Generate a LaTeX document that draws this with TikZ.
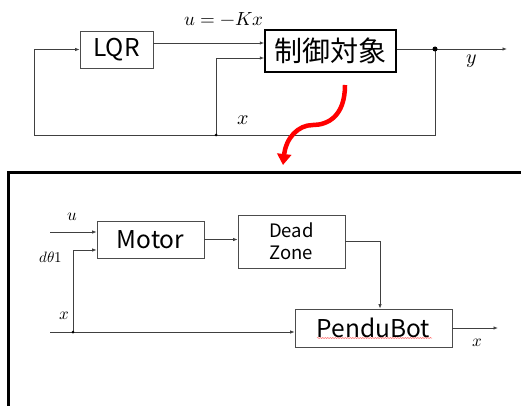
\documentclass[tikz,border=0pt]{standalone}
\usepackage{fontspec}
\usepackage{unicode-math}
\newfontfamily\jp{Noto Sans CJK JP}
\usetikzlibrary{arrows.meta,decorations.pathmorphing}
\begin{document}
\begin{tikzpicture}[x=1pt,y=-1pt,
  blk/.style={draw=black!70, line width=0.8pt, inner sep=0pt, font=\jp\fontsize{24.5}{26}\selectfont},
  ln/.style={draw=black!75, line width=0.8pt},
  arr/.style={ln, -{Latex[length=4.5pt,width=3.5pt]}},
  dotb/.style={circle, fill=black, inner sep=0pt, minimum size=#1},
  lab/.style={inner sep=0pt, font=\fontsize{20}{22}\selectfont},
  labs/.style={inner sep=0pt, font=\fontsize{17}{19}\selectfont}]
\useasboundingbox (0,0) rectangle (521,406);
\clip (0,0) rectangle (521,406);
% top
\node[blk, minimum width=73pt, minimum height=37pt] (lqr) at (116.5,49.5) {LQR};
\node[blk, draw=black, line width=1.5pt, minimum width=131pt, minimum height=42pt, font=\jp\fontsize{28}{30}\selectfont] (plant) at (330.5,51) {制御対象};
\coordinate (r43) at (0,43);
\coordinate (r58) at (0,58);
\coordinate (j1) at (216,135);
\coordinate (j1t) at (216,58);
\coordinate (j2) at (435,49);
\coordinate (j2b) at (435,135);
\coordinate (fbL) at (34,135);
\coordinate (yout) at (507,49);
\draw[arr] (lqr.east |- r43) -- (plant.west |- r43);
\draw[arr] (j1) -- (j1t) -- (plant.west |- r58);
\draw[arr] (plant.east |- j2) -- (yout);
\draw[arr] (j2) -- (j2b) -- (fbL) |- (lqr.west);
\node[dotb=5pt] (d2) at (j2) {};
\node[dotb=3pt] (d1) at (j1) {};
\node[lab, font=\fontsize{19}{21}\selectfont] (lu) at (224,19) {$u=-Kx$};
\node[lab] (ly) at (472,61) {$y$};
\node[lab] (lx) at (243,120) {$x$};
% red arrow
\coordinate (rs) at (345,85);
\coordinate (rm) at (313,125);
\coordinate (re) at (283,165);
\draw[red, line width=4.5pt, -{Triangle[length=11pt,width=14pt]}] (rs) .. controls (345,117) and (327,125) .. (rm) .. controls (298,125) and (286,138) .. (re);
% bottom frame
\coordinate (f1) at (8,420);
\coordinate (f2) at (8,172);
\coordinate (f3) at (530,172);
\draw[line width=3pt] (f1) -- (f2) -- (f3);
% bottom blocks
\node[blk, minimum width=107pt, minimum height=37pt] (motor) at (150.5,239.5) {Motor};
\node[blk, minimum width=107pt, minimum height=53pt, align=center, font=\jp\fontsize{18.5}{22}\selectfont] (dz) at (291.5,241.5) {Dead\\Zone};
\node[blk, minimum width=157pt, minimum height=38pt] (pendu) at (373.5,328) {PenduBot};
\coordinate (uin) at (50,232);
\coordinate (r232) at (0,232);
\coordinate (r250) at (0,250);
\coordinate (j3) at (73,332);
\coordinate (j3t) at (73,250);
\coordinate (xin) at (50,332);
\coordinate (c380) at (380,0);
\coordinate (xout) at (498,328);
\draw[arr] (uin) -- (motor.west |- r232);
\draw[arr] (j3) -- (j3t) -- (motor.west |- r250);
\draw[arr] (xin) -- (pendu.west |- j3);
\draw[arr] (motor.east) -- (dz.west |- motor.east);
\draw[arr] (dz.east) -| (c380 |- pendu.north);
\draw[arr] (pendu.east) -- (xout);
\node[dotb=3pt] (d3) at (j3) {};
\draw[red!60, line width=0.5pt, decorate, decoration={snake, amplitude=0.6pt, segment length=2.5pt}] (317,338) -- (432,338);
\node[labs] (lu2) at (72,217) {$u$};
\node[labs, font=\fontsize{15}{17}\selectfont] (ldt) at (51,257) {$d\theta1$};
\node[labs] (lx2) at (64,316) {$x$};
\node[labs] (lx3) at (477,343) {$x$};
\end{tikzpicture}
\end{document}
